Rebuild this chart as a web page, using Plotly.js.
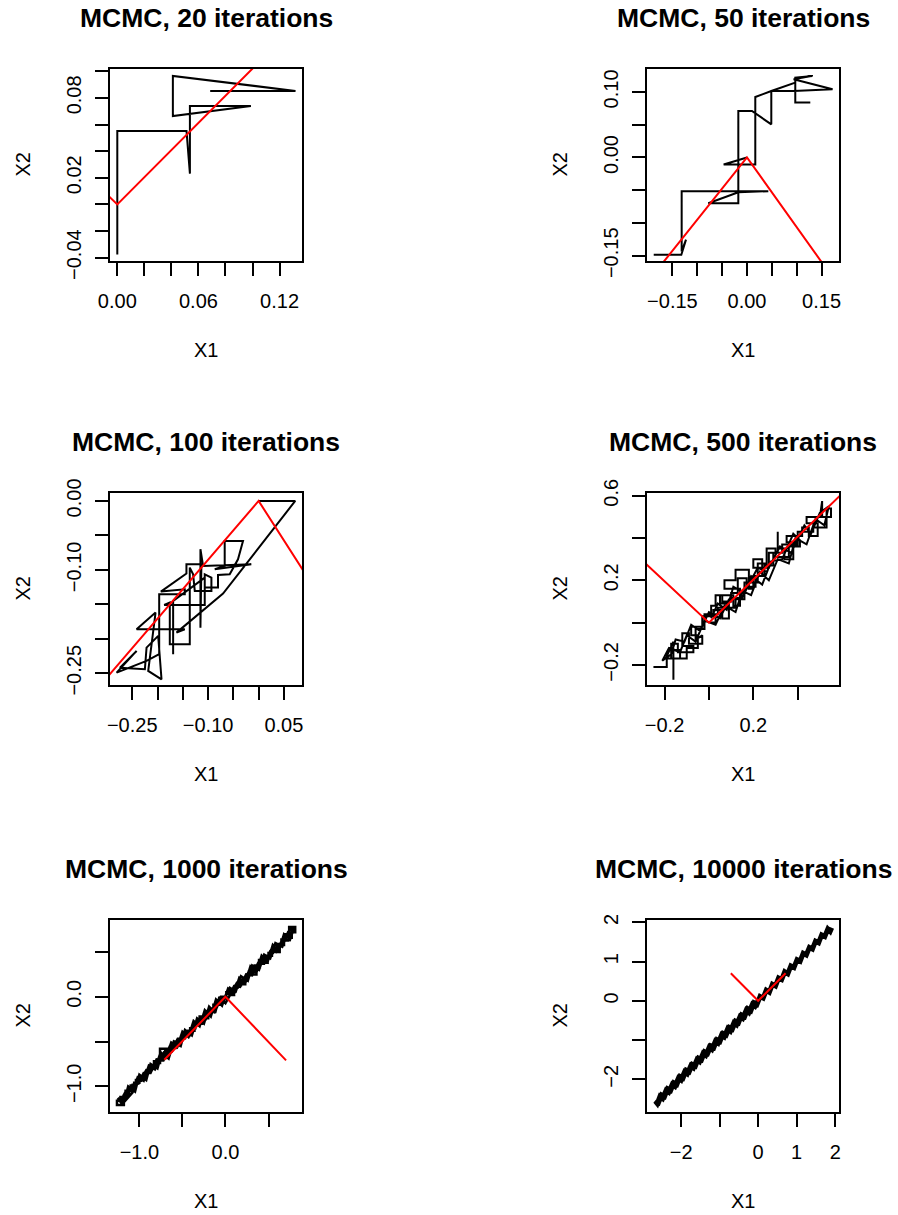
<!DOCTYPE html>
<html><head><meta charset="utf-8">
<script src="https://cdn.plot.ly/plotly-3.0.1.min.js"></script>
<style>html,body{margin:0;padding:0;background:#fff}</style>
</head><body><div id="chart" style="width:898px;height:1215px"></div>
<script>
// ---- chain values (X1, X2) ----
const titles = ["MCMC, 20 iterations","MCMC, 50 iterations","MCMC, 100 iterations","MCMC, 500 iterations","MCMC, 1000 iterations","MCMC, 10000 iterations"];

const x1_20 = [0, 0, 0, 0.0512, 0.0537, 0.0537, 0.0988, 0.0411, 0.0411, 0.1318, 0.0687];
const x2_20 = [0, -0.0376, 0.0551, 0.0551, 0.0231, 0.0739, 0.0739, 0.0664, 0.0965, 0.0852, 0.0852];

const x1_50 = [0, -0.0469, 0.0167, 0.0167, 0.0489, 0.0971, 0.0971, 0.1273, 0.0971, 0.0971, 0.1319, 0.0938, 0.1721, 0.0938, 0.0489, 0.0489, 0.0100, -0.0174, -0.0174, -0.0777, -0.0174, 0.0429, -0.1313, -0.1313, -0.1226, -0.1320, -0.1875];
const x2_50 = [0, -0.0107, -0.0107, 0.0923, 0.1015, 0.1143, 0.0837, 0.0837, 0.0837, 0.1219, 0.1245, 0.1194, 0.1041, 0.1015, 0.1015, 0.0505, 0.0709, 0.0709, -0.0699, -0.0699, -0.0531, -0.0515, -0.0515, -0.1434, -0.1255, -0.1485, -0.1485];

const x1_100 = [0, 0.0724, -0.0704, -0.1625, -0.1461, -0.2414, -0.2039, -0.2118, -0.2184, -0.1921, -0.1987, -0.2217, -0.2250, -0.2743, -0.2414, -0.2809, -0.2217, -0.1967, -0.1967, -0.1461, -0.1461, -0.1934, -0.1428, -0.1428, -0.1132, -0.1151, -0.1151, -0.1099, -0.0145, -0.0868, -0.0671, -0.0671, -0.0309, -0.0408, -0.0572, -0.0803, -0.0803, -0.1066, -0.1066, -0.0934, -0.0934, -0.1263, -0.1296, -0.1362, -0.1362, -0.1757, -0.1757, -0.1868, -0.1066, -0.1066, -0.1691, -0.1691];
const x2_100 = [0, 0, -0.1344, -0.1910, -0.1862, -0.1862, -0.1620, -0.2079, -0.2466, -0.2587, -0.1958, -0.2128, -0.2442, -0.2418, -0.2176, -0.2490, -0.2321, -0.2224, -0.1354, -0.1354, -0.1281, -0.1315, -0.1054, -0.0919, -0.0919, -0.1838, -0.0701, -0.0943, -0.0919, -0.0991, -0.0943, -0.0580, -0.0580, -0.0846, -0.1064, -0.1074, -0.1257, -0.1257, -0.1064, -0.1112, -0.1306, -0.1306, -0.1064, -0.0967, -0.2079, -0.2079, -0.1475, -0.1509, -0.1509, -0.1112, -0.1451, -0.2224];

const x1_500 = [0, 0.03, 0.03, -0.02, -0.02, -0.06, -0.06, -0.03, -0.03, -0.09, -0.09, -0.12, -0.12, -0.07, -0.07, -0.14, -0.14, -0.17, -0.17, -0.13, -0.13, -0.16, -0.16, -0.16, -0.19, -0.19, -0.25, -0.19, -0.19, -0.10, -0.10, -0.05, -0.05, -0.08, -0.08, -0.03, -0.03, 0.02, 0.02, 0.06, 0.06, 0.09, 0.09, 0.05, 0.05, 0.11, 0.11, 0.14, 0.14, 0.07, 0.07, 0.12, 0.12, 0.18, 0.18, 0.20, 0.20, 0.24, 0.24, 0.20, 0.20, 0.27, 0.27, 0.31, 0.31, 0.31, 0.34, 0.34, 0.38, 0.38, 0.35, 0.35, 0.42, 0.42, 0.45, 0.45, 0.49, 0.49, 0.44, 0.44, 0.51, 0.51, 0.50, 0.55, 0.55, 0.53, 0.53, 0.47, 0.47, 0.40, 0.40, 0.33, 0.33, 0.29, 0.29, 0.25, 0.25, 0.21, 0.21, 0.17, 0.17, 0.13, 0.13, 0.10, 0.10, 0.06, 0.06, 0.03, 0.03, 0.01, 0.01, 0.04, 0.04, 0.12, 0.12, 0.16, 0.16, 0.22, 0.22, 0.26, 0.26, 0.30, 0.30, 0.36, 0.36, 0.41, 0.41,
  0.38, 0.33, 0.28, 0.24, 0.19, 0.15, 0.09, 0.05, 0.00, -0.04, -0.08, -0.11, -0.15, -0.17, -0.21, -0.18, -0.13, -0.10, -0.06, -0.02, 0.03, 0.07, 0.12, 0.15, 0.19, 0.23, 0.27, 0.31, 0.36, 0.39, 0.44, 0.48, 0.52, 0.54, 0.50, 0.46, 0.43, 0.37, 0.32, 0.26, 0.22, 0.16, 0.11, 0.08, 0.04, 0.01];
const x2_500 = [0, 0.0, 0.04, 0.04, -0.03, -0.03, -0.08, -0.06, -0.10, -0.10, -0.05, -0.05, -0.11, -0.11, -0.14, -0.14, -0.10, -0.10, -0.17, -0.17, -0.13, -0.13, -0.27, -0.09, -0.16, -0.21, -0.21, -0.21, -0.17, -0.17, -0.12, -0.12, -0.06, -0.06, -0.02, -0.02, 0.03, 0.03, 0.06, 0.06, 0.02, 0.02, 0.09, 0.09, 0.13, 0.13, 0.08, 0.08, 0.16, 0.16, 0.20, 0.20, 0.25, 0.25, 0.16, 0.16, 0.22, 0.22, 0.30, 0.30, 0.26, 0.26, 0.33, 0.33, 0.43, 0.35, 0.35, 0.30, 0.30, 0.38, 0.38, 0.41, 0.41, 0.45, 0.45, 0.41, 0.41, 0.47, 0.47, 0.50, 0.50, 0.575, 0.50, 0.50, 0.54, 0.54, 0.45, 0.45, 0.43, 0.43, 0.37, 0.37, 0.33, 0.33, 0.27, 0.27, 0.22, 0.22, 0.17, 0.17, 0.21, 0.21, 0.14, 0.14, 0.10, 0.10, 0.13, 0.13, 0.08, 0.08, 0.04, 0.04, 0.07, 0.07, 0.11, 0.11, 0.19, 0.19, 0.28, 0.28, 0.35, 0.35, 0.31, 0.31, 0.36, 0.36, 0.39,
  0.42, 0.30, 0.29, 0.18, 0.22, 0.12, 0.11, 0.02, 0.05, -0.04, -0.01, -0.09, -0.08, -0.15, -0.18, -0.12, -0.14, -0.06, -0.09, 0.01, -0.01, 0.08, 0.05, 0.15, 0.13, 0.24, 0.20, 0.30, 0.28, 0.40, 0.37, 0.49, 0.46, 0.55, 0.52, 0.42, 0.46, 0.33, 0.36, 0.24, 0.26, 0.14, 0.17, 0.06, 0.09, 0.02];

const x1_1000 = [0, -0.05, -0.05, -0.14, -0.14, -0.20, -0.20, -0.28, -0.28, -0.30, -0.30, -0.36, -0.36, -0.43, -0.43, -0.48, -0.48, -0.55, -0.55, -0.62, -0.62, -0.70, -0.70, -0.66, -0.66, -0.76, -0.76, -0.82, -0.82, -0.88, -0.88, -0.93, -0.93, -0.98, -0.98, -1.04, -1.04, -1.10, -1.10, -1.16, -1.16, -1.22, -1.22, -1.26, -1.26, -1.18, -1.18, -1.12, -1.12, -1.06, -1.06, -1.00, -1.00, -0.94, -0.94, -0.89, -0.89, -0.83, -0.83, -0.77, -0.77, -0.71, -0.71, -0.64, -0.64, -0.58, -0.58, -0.52, -0.52, -0.47, -0.47, -0.41, -0.41, -0.35, -0.35, -0.29, -0.29, -0.23, -0.23, -0.17, -0.17, -0.11, -0.11, -0.05, -0.05, 0.01, 0.01, 0.06, 0.06, 0.10, 0.10, 0.14, 0.14, 0.19, 0.19, 0.23, 0.23, 0.27, 0.27, 0.32, 0.32, 0.36, 0.36, 0.40, 0.40, 0.45, 0.45, 0.49, 0.49, 0.54, 0.54, 0.59, 0.59, 0.63, 0.63, 0.68, 0.68, 0.73, 0.73, 0.77, 0.77, 0.81, 0.81, 0.74, 0.74, 0.70, 0.70, 0.65, 0.65, 0.60, 0.60, 0.55, 0.55, 0.50, 0.50, 0.44, 0.44, 0.39, 0.39, 0.34, 0.34, 0.29, 0.29, 0.24, 0.24, 0.18, 0.18, 0.12, 0.12, 0.07, 0.07,
  0.02, -0.04, -0.09, -0.15, -0.21, -0.26, -0.32, -0.38, -0.44, -0.50, -0.56, -0.62, -0.68, -0.74, -0.80, -0.86, -0.92, -0.98, -1.04, -1.10, -1.16, -1.22, -1.15, -1.08, -1.01, -0.95, -0.87, -0.80, -0.72, -0.65, -0.57, -0.50, -0.42, -0.35, -0.27, -0.20, -0.12, -0.05, 0.03, 0.10, 0.17, 0.24, 0.31, 0.38, 0.45, 0.52, 0.59, 0.66, 0.73, 0.79, 0.76, 0.69, 0.62, 0.55, 0.48, 0.41, 0.34, 0.27, 0.20, 0.13, 0.06,
  0.00, -0.07, -0.12, -0.19, -0.25, -0.33, -0.39, -0.47, -0.52, -0.60, -0.66, -0.74, -0.79, -0.87, -0.92, -1.00, -1.05, -1.13, -1.18, -1.25, -1.20, -1.08, -1.02, -0.95, -0.89, -0.82, -0.76, -0.69, -0.63, -0.56, -0.50, -0.43, -0.37, -0.30, -0.24, -0.17, -0.11, -0.04, 0.03, 0.10, 0.16, 0.23, 0.29, 0.36, 0.42, 0.49, 0.55, 0.62, 0.68, 0.75, 0.80, 0.73, 0.66, 0.58, 0.52, 0.45, 0.39, 0.31, 0.26, 0.18, 0.12, 0.05, 0.00];
const x2_1000 = [0, 0, -0.09, -0.09, -0.17, -0.17, -0.24, -0.24, -0.22, -0.22, -0.31, -0.31, -0.38, -0.38, -0.43, -0.43, -0.47, -0.47, -0.55, -0.55, -0.60, -0.60, -0.68, -0.68, -0.58, -0.58, -0.74, -0.74, -0.78, -0.78, -0.84, -0.84, -0.89, -0.89, -0.93, -0.93, -0.99, -0.99, -1.05, -1.05, -1.12, -1.12, -1.16, -1.16, -1.21, -1.21, -1.10, -1.10, -1.02, -1.02, -0.96, -0.96, -0.90, -0.90, -0.85, -0.85, -0.80, -0.80, -0.72, -0.72, -0.69, -0.69, -0.62, -0.62, -0.57, -0.57, -0.50, -0.50, -0.46, -0.46, -0.40, -0.40, -0.35, -0.35, -0.30, -0.30, -0.25, -0.25, -0.19, -0.19, -0.13, -0.13, -0.08, -0.08, -0.02, -0.02, 0.05, 0.05, 0.02, 0.02, 0.10, 0.10, 0.16, 0.16, 0.14, 0.14, 0.22, 0.22, 0.28, 0.28, 0.25, 0.25, 0.33, 0.33, 0.40, 0.40, 0.38, 0.38, 0.46, 0.46, 0.52, 0.52, 0.50, 0.50, 0.58, 0.58, 0.63, 0.63, 0.66, 0.66, 0.72, 0.72, 0.78, 0.78, 0.70, 0.70, 0.64, 0.64, 0.59, 0.59, 0.55, 0.55, 0.49, 0.49, 0.44, 0.44, 0.41, 0.41, 0.35, 0.35, 0.30, 0.30, 0.24, 0.24, 0.19, 0.19, 0.13, 0.13, 0.08, 0.08, 0.03,
  0.05, -0.07, -0.05, -0.17, -0.16, -0.27, -0.26, -0.37, -0.38, -0.49, -0.48, -0.61, -0.60, -0.71, -0.72, -0.83, -0.82, -0.94, -0.95, -1.05, -1.06, -1.17, -1.13, -0.98, -0.97, -0.85, -0.85, -0.70, -0.71, -0.56, -0.57, -0.43, -0.44, -0.29, -0.30, -0.15, -0.16, -0.01, -0.02, 0.12, 0.11, 0.25, 0.24, 0.38, 0.37, 0.51, 0.50, 0.64, 0.63, 0.76, 0.68, 0.67, 0.55, 0.54, 0.42, 0.41, 0.28, 0.28, 0.15, 0.15, 0.03,
  -0.07, 0.00, -0.18, -0.11, -0.30, -0.24, -0.43, -0.37, -0.55, -0.50, -0.69, -0.63, -0.80, -0.75, -0.93, -0.87, -1.06, -1.00, -1.19, -1.13, -1.20, -1.07, -0.90, -0.94, -0.77, -0.81, -0.64, -0.68, -0.51, -0.56, -0.39, -0.45, -0.27, -0.33, -0.15, -0.22, -0.03, -0.10, 0.09, 0.03, 0.21, 0.15, 0.34, 0.27, 0.46, 0.39, 0.58, 0.51, 0.70, 0.64, 0.78, 0.73, 0.56, 0.60, 0.43, 0.47, 0.30, 0.35, 0.18, 0.23, 0.06, 0.10, 0.00];

const x1_10000 = [0, -0.08, -0.15, -0.24, -0.31, -0.40, -0.47, -0.56, -0.63, -0.72, -0.79, -0.88, -0.95, -1.04, -1.11, -1.20, -1.27, -1.36, -1.43, -1.52, -1.59, -1.68, -1.75, -1.84, -1.91, -2.00, -2.07, -2.16, -2.23, -2.32, -2.39, -2.48, -2.55, -2.62, -2.67,
  -2.59, -2.51, -2.43, -2.35, -2.27, -2.19, -2.11, -2.03, -1.95, -1.87, -1.79, -1.71, -1.63, -1.55, -1.47, -1.39, -1.31, -1.23, -1.15, -1.07, -0.99, -0.91, -0.83, -0.75, -0.67, -0.59, -0.51, -0.43, -0.35, -0.27, -0.19, -0.11, -0.03, 0.05, 0.13, 0.21, 0.29, 0.37, 0.45, 0.53, 0.61, 0.69, 0.77, 0.85, 0.93, 1.01, 1.09, 1.17, 1.25, 1.33, 1.41, 1.49, 1.57, 1.65, 1.73, 1.81, 1.87, 1.91];
const x2_10000 = [0, -0.14, -0.09, -0.30, -0.24, -0.45, -0.40, -0.61, -0.56, -0.77, -0.71, -0.92, -0.87, -1.08, -1.03, -1.24, -1.18, -1.39, -1.34, -1.55, -1.50, -1.71, -1.66, -1.86, -1.81, -2.02, -1.97, -2.18, -2.13, -2.33, -2.28, -2.49, -2.44, -2.62, -2.56,
  -2.60, -2.40, -2.44, -2.24, -2.28, -2.09, -2.13, -1.93, -1.97, -1.77, -1.81, -1.62, -1.66, -1.46, -1.50, -1.30, -1.34, -1.15, -1.19, -0.99, -1.03, -0.83, -0.87, -0.68, -0.72, -0.52, -0.56, -0.36, -0.40, -0.20, -0.25, -0.05, -0.09, 0.11, 0.07, 0.27, 0.22, 0.42, 0.38, 0.58, 0.54, 0.74, 0.69, 0.89, 0.85, 1.05, 1.01, 1.21, 1.17, 1.36, 1.32, 1.52, 1.48, 1.68, 1.64, 1.83, 1.77, 1.86];

// ---- eigenvector lines (red): end, origin, end ----
const eig_x1 = [[-0.714, 0, 0.700], [-0.725, 0, 0.685], [-0.760, 0, 0.658], [-0.715, 0, 0.701], [-0.710, 0, 0.704], [-0.710, 0, 0.712]];
const eig_x2 = [[0.700, 0, 0.714], [-0.689, 0, -0.729], [-0.649, 0, -0.753], [0.699, 0, 0.713], [-0.704, 0, -0.710], [0.704, 0, 0.702]];

// ---- axis ranges ----
const xRanges = [[-0.0054, 0.1366], [-0.201, 0.185], [-0.294, 0.0858], [-0.279, 0.586], [-1.341, 0.889], [-2.886, 2.099]];
const yRanges = [[-0.0425, 0.1017], [-0.158, 0.135], [-0.267, 0.0115], [-0.295, 0.613], [-1.287, 0.858], [-2.834, 2.06]];

// ---- ticks ----
const xTickVals = [[0,0.02,0.04,0.06,0.08,0.10,0.12], [-0.15,-0.10,-0.05,0,0.05,0.10,0.15], [-0.25,-0.20,-0.15,-0.10,-0.05,0,0.05], [-0.2,0,0.2,0.4], [-1,-0.5,0,0.5], [-2,-1,0,1,2]];
const xTickText = [['0.00','','','0.06','','','0.12'], ['−0.15','','','0.00','','','0.15'], ['−0.25','','','−0.10','','','0.05'], ['−0.2','','0.2',''], ['−1.0','','0.0',''], ['−2','','0','1','2']];
const yTickVals = [[-0.04,-0.02,0,0.02,0.04,0.06,0.08,0.10], [-0.15,-0.10,-0.05,0,0.05,0.10], [-0.25,-0.20,-0.15,-0.10,-0.05,0], [-0.2,0,0.2,0.4,0.6], [-1,-0.5,0,0.5], [-2,-1,0,1,2]];
const yTickText = [['−0.04','','','0.02','','','0.08',''], ['−0.15','','','0.00','','0.10'], ['−0.25','','','−0.10','','0.00'], ['−0.2','','0.2','','0.6'], ['−1.0','','0.0',''], ['−2','','0','1','2']];

const chainsX = [x1_20, x1_50, x1_100, x1_500, x1_1000, x1_10000];
const chainsY = [x2_20, x2_50, x2_100, x2_500, x2_1000, x2_10000];
const chainWidth = [2, 2, 2, 2, 2.5, 5];

// ---- layout geometry (pixels) ----
const W = 898, H = 1215;
const colX = [[110, 302], [647, 839]];
const rowY = [[69, 261], [493, 685], [920, 1112]];
const FONT = 'Liberation Sans, Arial, sans-serif';

const traces = [];
const layout = {
  width: W, height: H, margin: {l:0, r:0, t:0, b:0},
  paper_bgcolor: '#fff', plot_bgcolor: '#fff', showlegend: false,
  font: {family: FONT, color: '#000'}, annotations: []
};

for (let i = 0; i < 6; i++) {
  const c = i % 2, r = Math.floor(i / 2);
  const xs = i === 0 ? 'x' : 'x' + (i + 1), ys = i === 0 ? 'y' : 'y' + (i + 1);
  const xk = i === 0 ? 'xaxis' : 'xaxis' + (i + 1), yk = i === 0 ? 'yaxis' : 'yaxis' + (i + 1);
  traces.push({x: chainsX[i], y: chainsY[i], xaxis: xs, yaxis: ys, type: 'scatter', mode: 'lines',
    line: {color: '#000', width: chainWidth[i]}, hoverinfo: 'skip'});
  traces.push({x: eig_x1[i], y: eig_x2[i], xaxis: xs, yaxis: ys, type: 'scatter', mode: 'lines',
    line: {color: '#ff0000', width: 2}, hoverinfo: 'skip'});
  const common = {showline: true, mirror: true, linecolor: '#000', linewidth: 2, ticks: 'outside', ticklen: 13,
    tickwidth: 2, tickcolor: '#000', showgrid: false, zeroline: false, tickfont: {family: FONT, size: 20, color: '#000'},
    fixedrange: true};
  layout[xk] = Object.assign({}, common, {domain: [colX[c][0] / W, colX[c][1] / W], range: xRanges[i],
    tickmode: 'array', tickvals: xTickVals[i], ticktext: xTickText[i], anchor: ys, ticklabelstandoff: 8});
  layout[yk] = Object.assign({}, common, {domain: [1 - rowY[r][1] / H, 1 - rowY[r][0] / H], range: yRanges[i],
    tickmode: 'array', tickvals: yTickVals[i], ticktext: yTickText[i], anchor: xs, tickangle: -90, ticklabelstandoff: 6});
  const cx = (colX[c][0] + colX[c][1]) / 2 / W;
  layout.annotations.push({text: '<b>' + titles[i] + '</b>', xref: 'paper', yref: 'paper', x: cx,
    y: 1 - (rowY[r][0] - 51) / H, xanchor: 'center', yanchor: 'middle', showarrow: false,
    font: {family: FONT, size: 26.5, color: '#000'}});
  layout.annotations.push({text: 'X1', xref: 'paper', yref: 'paper', x: cx,
    y: 1 - (rowY[r][1] + 89) / H, xanchor: 'center', yanchor: 'middle', showarrow: false,
    font: {family: FONT, size: 20, color: '#000'}});
  layout.annotations.push({text: 'X2', xref: 'paper', yref: 'paper', x: (colX[c][0] - 87.5) / W,
    y: 1 - (rowY[r][0] + rowY[r][1]) / 2 / H, xanchor: 'center', yanchor: 'middle', textangle: -90, showarrow: false,
    font: {family: FONT, size: 20, color: '#000'}});
}

Plotly.newPlot('chart', traces, layout, {displayModeBar: false, staticPlot: true});
</script>
</body></html>
